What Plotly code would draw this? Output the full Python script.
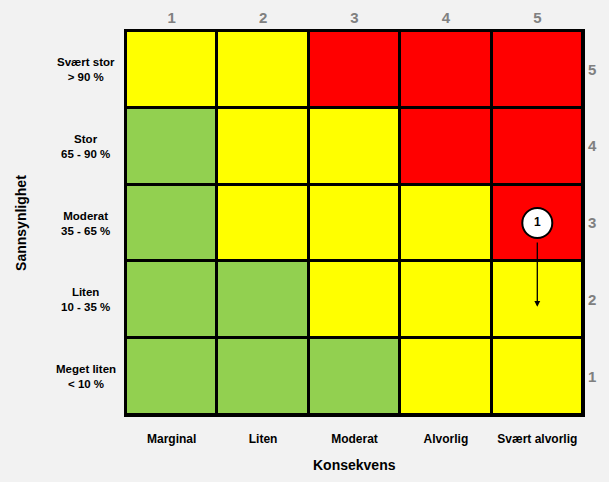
import plotly.graph_objects as go

# risk matrix: konsekvens (x) vs sannsynlighet (y)
konsekvens = [1, 2, 3, 4, 5]
konsekvens_labels = ['Marginal', 'Liten', 'Moderat', 'Alvorlig', 'Svært alvorlig']
sannsynlighet = [1, 2, 3, 4, 5]
sannsynlighet_labels = ['Meget liten<br>< 10 %', 'Liten<br>10 - 35 %', 'Moderat<br>35 - 65 %',
                        'Stor<br>65 - 90 %', 'Svært stor<br>> 90 %']

# 0 = green, 1 = yellow, 2 = red ; rows from sannsynlighet 1 (bottom) to 5 (top)
risk_level = [
    [0, 0, 0, 1, 1],
    [0, 0, 1, 1, 1],
    [0, 1, 1, 1, 2],
    [0, 1, 1, 2, 2],
    [1, 1, 2, 2, 2],
]

# risk item 1 moves from (5, 3) to (5, 2)
risk_id = '1'
risk_kons = 5
risk_from = 3
risk_to = 2

green, yellow, red = '#92D050', '#FFFF00', '#FF0000'
bg = '#F2F2F2'
gray = '#808080'
font = 'Liberation Sans'

fig = go.Figure()
fig.add_trace(go.Heatmap(
    x=konsekvens, y=sannsynlighet, z=risk_level,
    zmin=0, zmax=2,
    colorscale=[[0, green], [0.333, green], [0.333, yellow], [0.667, yellow], [0.667, red], [1, red]],
    showscale=False, xgap=3, ygap=3, hoverinfo='skip'))

# invisible trace for the secondary axes (top / right numbers)
fig.add_trace(go.Scatter(x=konsekvens, y=sannsynlighet, xaxis='x2', yaxis='y2',
                         mode='markers', marker=dict(opacity=0), hoverinfo='skip', showlegend=False))

fig.add_trace(go.Scatter(
    x=[risk_kons], y=[risk_from], mode='markers+text', text=[risk_id],
    textfont=dict(family=font, size=12, color='black', weight='bold'),
    marker=dict(size=30, color='white', line=dict(color='black', width=2)),
    hoverinfo='skip', showlegend=False))

fig.add_annotation(x=risk_kons, y=risk_to, ax=risk_kons, ay=risk_from,
                   xref='x', yref='y', axref='x', ayref='y', text='',
                   showarrow=True, arrowhead=2, arrowsize=0.9, arrowwidth=1.3,
                   arrowcolor='black', startstandoff=11, yshift=-7)

for val, lab in zip(sannsynlighet, sannsynlighet_labels):
    fig.add_annotation(x=-0.088, xref='paper', y=val, yref='y', text='<b>' + lab.replace('<br>', '</b><br><b>') + '</b>',
                       showarrow=False, xanchor='center', align='center',
                       font=dict(family=font, size=11.5, color='black'))

fig.add_annotation(x=-0.23, xref='paper', y=0.5, yref='paper', text='<b>Sannsynlighet</b>',
                   textangle=-90, showarrow=False, xanchor='center', yanchor='middle',
                   font=dict(family=font, size=14, color='black'))
fig.add_annotation(x=0.5, xref='paper', y=-0.13, yref='paper', text='<b>Konsekvens</b>',
                   showarrow=False, yanchor='middle', font=dict(family=font, size=14, color='black'))

fig.update_layout(
    width=609, height=482,
    margin=dict(l=126, r=26, t=31, b=67),
    paper_bgcolor=bg, plot_bgcolor='black',
    showlegend=False,
    xaxis=dict(range=[0.5, 5.5], tickvals=konsekvens, ticktext=konsekvens_labels,
               ticks='outside', ticklen=12, tickcolor='rgba(0,0,0,0)',
               tickfont=dict(family=font, size=12, color='black', weight='bold'),
               showgrid=False, zeroline=False, showline=True, linecolor='black',
               linewidth=2, mirror=True, fixedrange=True, automargin=False),
    yaxis=dict(range=[0.5, 5.5], showticklabels=False, ticks='',
               showgrid=False, zeroline=False, showline=True, linecolor='black',
               linewidth=2, mirror=True, fixedrange=True, automargin=False),
    xaxis2=dict(overlaying='x', side='top', range=[0.5, 5.5], tickvals=konsekvens,
                ticks='outside', ticklen=1, tickcolor='rgba(0,0,0,0)',
                tickfont=dict(family=font, size=15, color=gray, weight='bold'),
                showgrid=False, zeroline=False, automargin=False, fixedrange=True),
    yaxis2=dict(overlaying='y', side='right', range=[0.5, 5.5], tickvals=sannsynlighet,
                ticks='outside', ticklen=1, tickcolor='rgba(0,0,0,0)',
                tickfont=dict(family=font, size=15, color=gray, weight='bold'),
                showgrid=False, zeroline=False, automargin=False, fixedrange=True),
)

fig.write_html('out.html', config={'displayModeBar': False}, post_script=(
    "document.body.style.margin='0';"
    "document.body.style.overflow='hidden';"
    "document.body.style.background='" + bg + "';"))
